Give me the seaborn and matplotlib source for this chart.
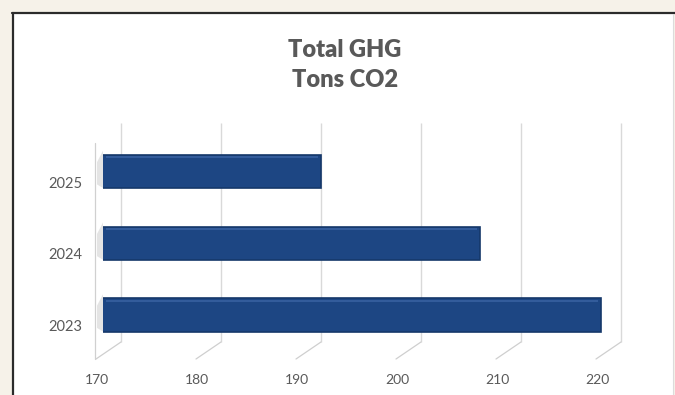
import matplotlib
matplotlib.use("Agg")
import matplotlib.pyplot as plt
import matplotlib.patches as mpatches
import matplotlib.lines as mlines
from matplotlib.transforms import ScaledTranslation
import seaborn as sns
import pandas as pd

# Data
years = ["2025", "2024", "2023"]
tons_co2 = [191.8, 207.7, 219.8]
x_ticks = [170, 180, 190, 200, 210, 220]
title_lines = ["Total GHG", "Tons CO2"]

XMIN, XMAX = 170, 220

W, H, DPI = 675, 395, 100
sns.set_theme(style="white")
plt.rcParams["font.family"] = ["Lato", "DejaVu Sans"]

fig = plt.figure(figsize=(W / DPI, H / DPI), dpi=DPI, facecolor="#f6f2e9")


def fx(px):
    return px / W


def fy(py):
    return 1 - py / H


# White card with a dark top/left border
fig.patches.append(mpatches.Rectangle((fx(12), 0), fx(673) - fx(12), fy(13),
                                      transform=fig.transFigure, facecolor="white",
                                      edgecolor="none", zorder=-10))
fig.lines.append(mlines.Line2D([fx(12), fx(675)], [fy(13), fy(13)],
                               transform=fig.transFigure, color="#2b2b2b", lw=1.6,
                               zorder=-5))
fig.lines.append(mlines.Line2D([fx(13), fx(13)], [fy(13), 0],
                               transform=fig.transFigure, color="#2b2b2b", lw=1.6,
                               zorder=-5))
fig.lines.append(mlines.Line2D([fx(673), fx(673)], [fy(14), 0],
                               transform=fig.transFigure, color="#dcdcdc", lw=0.8,
                               zorder=-5))

# Axes sits in the plane of the bars' front faces
top_px, bot_px = 136, 355
ax = fig.add_axes([fx(103), fy(bot_px), fx(603) - fx(103), (bot_px - top_px) / H])
ax.set_facecolor("none")
ax.set_zorder(1)

BAR_W = 0.46
df = pd.DataFrame({"year": years, "tons": tons_co2})
sns.barplot(data=df, x="tons", y="year", order=years, orient="h",
            color="#1d4683", width=BAR_W, saturation=1, ax=ax, zorder=3)
for p in ax.patches:
    p.set_edgecolor("#15386a")
    p.set_linewidth(1.2)

ax.set_xlim(XMIN, XMAX)
pitch = 71.75
ax.set_ylim((bot_px - 171.5) / pitch, (top_px - 171.5) / pitch)

# Bevel highlight on the top edge and soft shadow where each bar meets the side wall
for i, v in enumerate(tons_co2):
    top = i - BAR_W / 2
    ax.plot([XMIN + 0.3, v - 0.3], [top + 0.03, top + 0.03], color="#3861a0",
            lw=1.2, zorder=4, solid_capstyle="butt")
    ax.add_patch(mpatches.Polygon(
        [(XMIN - 0.6, top + 0.10), (XMIN, top - 0.06), (XMIN, i + BAR_W / 2),
         (XMIN - 0.6, i + BAR_W / 2 - 0.05)],
        closed=True, facecolor="#c4c4c4", edgecolor="none", alpha=0.45,
        zorder=2, clip_on=False))

# Back wall sits up and to the right of the bar plane
back = ScaledTranslation(18 / DPI, 13 / DPI, fig.dpi_scale_trans)
xt = ax.get_xaxis_transform()
ax.vlines(x_ticks, 0, 1, transform=xt + back, color="#d9d9d9", lw=1.0,
          zorder=0, clip_on=False)

# Floor depth strokes at each tick
h_ax = bot_px - top_px
y_back = (bot_px - 342) / h_ax
y_front = (bot_px - 359) / h_ax
for v in x_ticks:
    ax.plot([v + 1.8, v - 0.7], [y_back, y_front], transform=xt,
            color="#cfcfcf", lw=0.9, clip_on=False, zorder=0)

# Side wall front edge
ax.plot([XMIN - 0.8, XMIN - 0.8], [(bot_px - 143) / h_ax, y_front], transform=xt,
        color="#d0d0d0", lw=0.9, clip_on=False, zorder=0)

sns.despine(ax=ax, left=True, bottom=True)
ax.set_xlabel("")
ax.set_ylabel("")
ax.grid(False)

ax.set_xticks(x_ticks)
ax.set_xticklabels([str(t) for t in x_ticks])
ax.tick_params(axis="x", length=0, pad=14, labelsize=10, labelcolor="#595959")
ax.tick_params(axis="y", length=0, pad=15, labelsize=10.5, labelcolor="#595959")
shift_x = ScaledTranslation(-6 / DPI, 0, fig.dpi_scale_trans)
for lab in ax.get_xticklabels():
    lab.set_transform(lab.get_transform() + shift_x)
shift_y = ScaledTranslation(0, -10.5 / DPI, fig.dpi_scale_trans)
for lab in ax.get_yticklabels():
    lab.set_transform(lab.get_transform() + shift_y)

fig.text(fx(345), fy(50), title_lines[0], ha="center", va="center",
         fontsize=17, fontweight="heavy", color="#595959")
fig.text(fx(345), fy(80), title_lines[1], ha="center", va="center",
         fontsize=17, fontweight="heavy", color="#595959")

fig.savefig("out.png", dpi=DPI, facecolor=fig.get_facecolor())
